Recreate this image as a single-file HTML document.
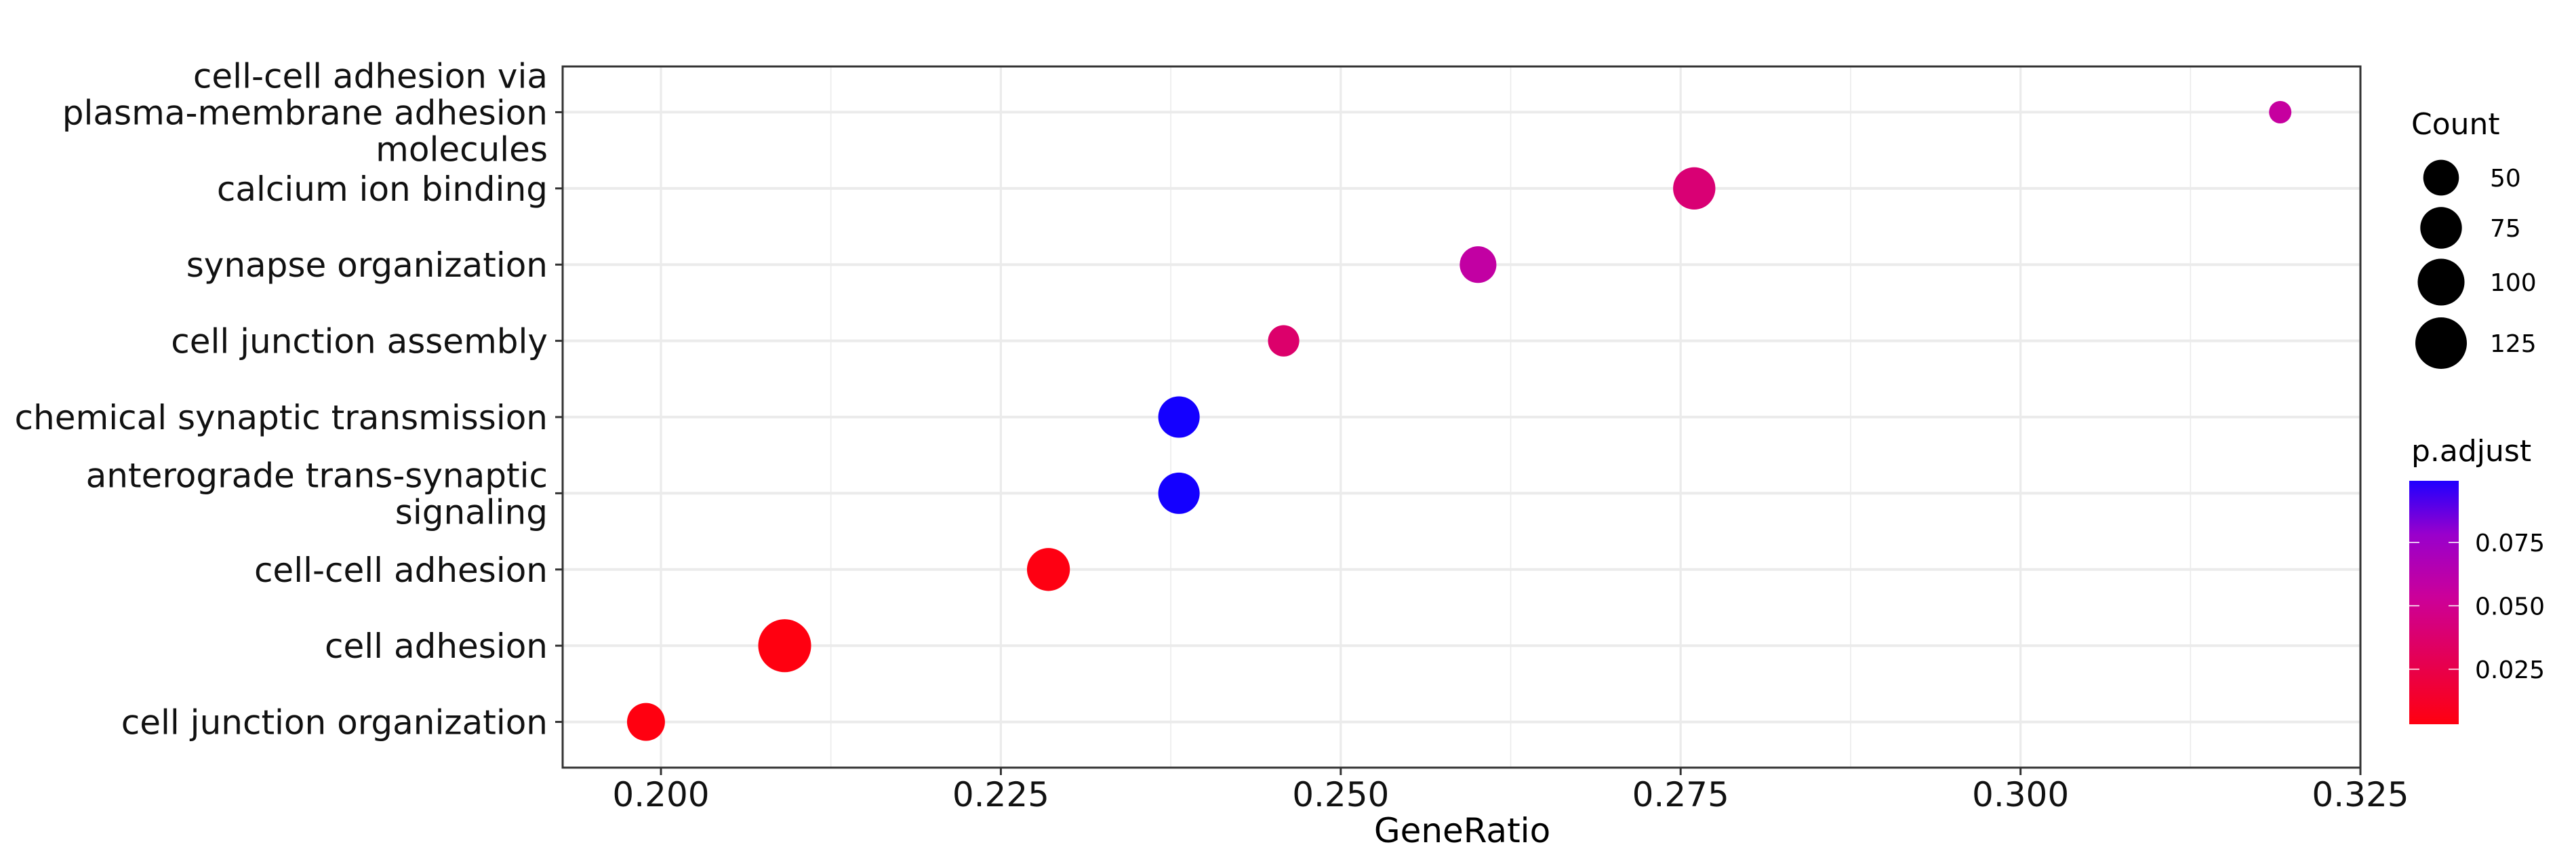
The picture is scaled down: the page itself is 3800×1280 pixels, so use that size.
<!DOCTYPE html>
<html><head><meta charset="utf-8"><style>
html,body{margin:0;padding:0;background:#fff;}
svg{display:block;font-family:"DejaVu Sans","Liberation Sans",sans-serif;}
</style></head><body>
<svg id="chart" width="3800" height="1280" viewBox="0 0 3800 1280" xmlns="http://www.w3.org/2000/svg">
<defs>
<linearGradient id="pgrad" x1="0" y1="1" x2="0" y2="0">
<stop offset="0" stop-color="#FF0010"/><stop offset="0.25" stop-color="#E60050"/><stop offset="0.52" stop-color="#CC0099"/><stop offset="0.78" stop-color="#9900CC"/><stop offset="1" stop-color="#2000FF"/>
</linearGradient>
</defs>
<g id="grid"></g>
<g id="marks"></g>
<rect x="830" y="98" width="2652" height="1034" fill="none" stroke="#333" stroke-width="3"/>
<g id="axes"></g>
<text x="2157" y="1242" font-size="50" text-anchor="middle">GeneRatio</text>
<g id="legend"></g>
</svg>
<script>
const categories = ["cell-cell adhesion via|plasma-membrane adhesion|molecules","calcium ion binding","synapse organization","cell junction assembly","chemical synaptic transmission","anterograde trans-synaptic|signaling","cell-cell adhesion","cell adhesion","cell junction organization"];
const geneRatio = [0.3191,0.2760,0.2601,0.2458,0.2381,0.2381,0.2285,0.2091,0.1989];
const counts = [8,78,54,34,74,74,81,133,59];
const pAdjust = [0.056,0.040,0.058,0.037,0.0993,0.0993,0.004,0.002,0.003];
const xTicks = [0.200,0.225,0.250,0.275,0.300,0.325];
const xTickLabels = ["0.200","0.225","0.250","0.275","0.300","0.325"];
const sizeBreaks = [50,75,100,125];
const colorBreaks = [0.025,0.050,0.075];
const colorBreakLabels = ["0.025","0.050","0.075"];

const NS="http://www.w3.org/2000/svg";
const PX0=830, PX1=3482, PY0=98, PY1=1132;
const xMin=0.19277, xMax=0.325;
function xs(v){return PX0+(v-xMin)/(xMax-xMin)*(PX1-PX0);}
const n=categories.length;
const step=(PY1-PY0)/(n-1+1.2);
function ys(i){return PY0+step*0.6+i*step;}
function rs(c){return Math.sqrt(Math.max(693+10*(c-50),120));}
const stops=[[0,[255,0,16]],[0.25,[230,0,80]],[0.52,[204,0,153]],[0.78,[153,0,204]],[1,[20,0,255]]];
const pMin=0.0033,pMax=0.0993;
function col(p){let t=(p-pMin)/(pMax-pMin);t=Math.max(0,Math.min(1,t));
 for(let k=1;k<stops.length;k++){if(t<=stops[k][0]){const a=stops[k-1],b=stops[k];const u=(t-a[0])/(b[0]-a[0]);
 const c=a[1].map((v,j)=>Math.round(v+(b[1][j]-v)*u));return `rgb(${c[0]},${c[1]},${c[2]})`;}}return "rgb(20,0,255)";}
function mk(tag,attrs,parent){const e=document.createElementNS(NS,tag);for(const k in attrs)e.setAttribute(k,attrs[k]);parent.appendChild(e);return e;}

const grid=document.getElementById('grid');
for(let k=0;k<xTicks.length-1;k++){
 const ln=mk('line',{x1:xs((xTicks[k]+xTicks[k+1])/2),x2:xs((xTicks[k]+xTicks[k+1])/2),y1:PY0,y2:PY1,stroke:'#EBEBEB','stroke-width':1.6},grid);
 
 
}
xTicks.forEach(v=>{
 const ln=mk('line',{x1:xs(v),x2:xs(v),y1:PY0,y2:PY1,stroke:'#EBEBEB','stroke-width':3.2},grid);
 
 
});
categories.forEach((c,i)=>{
 const ln=mk('line',{x1:PX0,x2:PX1,y1:ys(i),y2:ys(i),stroke:'#EBEBEB','stroke-width':4},grid);
 
 
});

const marks=document.getElementById('marks');
categories.forEach((c,i)=>{
 const el=mk('circle',{cx:xs(geneRatio[i]),cy:ys(i),r:rs(counts[i]),fill:col(pAdjust[i])},marks);
 
 
});

const axes=document.getElementById('axes');
xTicks.forEach((v,k)=>{
 const t=mk('line',{x1:xs(v),x2:xs(v),y1:PY1,y2:PY1+11,stroke:'#333','stroke-width':3},axes);
 
 
 const tx=mk('text',{x:xs(v),y:1189,'font-size':50,'text-anchor':'middle',fill:'#111'},axes);
 tx.textContent=xTickLabels[k];
 
 
});
categories.forEach((c,i)=>{
 const t=mk('line',{x1:PX0-11,x2:PX0,y1:ys(i),y2:ys(i),stroke:'#333','stroke-width':3},axes);
 
 
 const lines=c.split('|');const lh=54;
 const y0=ys(i)-(lines.length-1)*lh/2+18;
 lines.forEach((l,j)=>{
  const tx=mk('text',{x:808,y:y0+j*lh,'font-size':50,'text-anchor':'end',fill:'#111'},axes);
  tx.textContent=l;
  
  
 });
});

const lg=document.getElementById('legend');
{const t=mk('text',{x:3557,y:198,'font-size':44},lg);t.textContent='Count';
 
 }
const legY=[262,336,416,506];
sizeBreaks.forEach((b,k)=>{
 const c=mk('circle',{cx:3601,cy:legY[k],r:rs(b),fill:'#000'},lg);
 
 
 const t=mk('text',{x:3673,y:legY[k]+13,'font-size':36},lg);t.textContent=String(b);
 
 
});
{const t=mk('text',{x:3557,y:680,'font-size':44},lg);t.textContent='p.adjust';
 
 }
const CB0=709,CB1=1068;
{const r=mk('rect',{x:3554,y:CB0,width:73,height:CB1-CB0,fill:'url(#pgrad)'},lg);
 
 }
function cy(p){return CB1-(p-pMin)/(pMax-pMin)*(CB1-CB0);}
colorBreaks.forEach((b,k)=>{
 const y=cy(b);
 const a=mk('line',{x1:3554,x2:3569,y1:y,y2:y,stroke:'#fff','stroke-width':1.5},lg);
 
 
 const bb=mk('line',{x1:3612,x2:3627,y1:y,y2:y,stroke:'#fff','stroke-width':1.5},lg);
 
 
 const t=mk('text',{x:3651,y:y+13,'font-size':36},lg);t.textContent=colorBreakLabels[k];
 
 
});
</script>
</body></html>
